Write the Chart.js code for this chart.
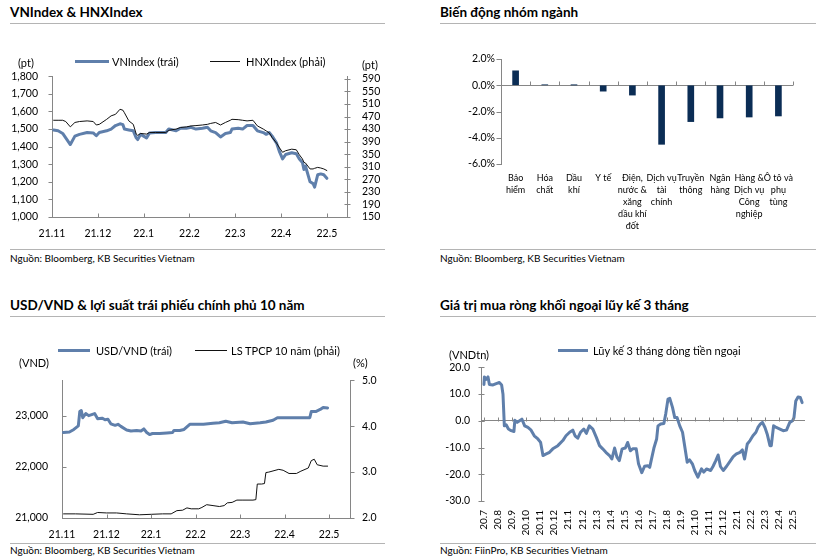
<!DOCTYPE html>
<html><head><meta charset="utf-8">
<script src="https://cdn.jsdelivr.net/npm/chart.js@4.4.1/dist/chart.umd.min.js"></script>
<style>
body{margin:0;background:#fff;width:818px;height:559px;position:relative;overflow:hidden;font-family:Lato,sans-serif;color:#000;}
.t{position:absolute;white-space:nowrap;}
.title{font-weight:bold;font-size:13.5px;line-height:16px;}
.rule{position:absolute;height:0;border-top:1px solid #b4b4b4;}
.src{font-size:10px;line-height:12px;}
.lg{font-size:11px;line-height:13px;}
.sw{position:absolute;height:0;}
canvas{position:absolute;}
</style></head><body>

<div class="t title" style="left:10px;top:4px">VNIndex &amp; HNXIndex</div>
<div class="rule" style="left:10px;top:23px;width:375px"></div>
<div class="t title" style="left:440px;top:4px">Biến động nhóm ngành</div>
<div class="rule" style="left:440px;top:23px;width:376px"></div>
<div class="t title" style="left:10px;top:297px">USD/VND &amp; lợi suất trái phiếu chính phủ 10 năm</div>
<div class="rule" style="left:10px;top:316px;width:375px"></div>
<div class="t title" style="left:440px;top:297px">Giá trị mua ròng khối ngoại lũy kế 3 tháng</div>
<div class="rule" style="left:440px;top:316px;width:376px"></div>

<canvas id="c1" width="410" height="192" style="left:0;top:55px"></canvas>
<canvas id="c2" width="378" height="194" style="left:440px;top:45px"></canvas>
<canvas id="c3" width="410" height="182" style="left:0;top:360px"></canvas>
<canvas id="c4" width="408" height="191" style="left:410px;top:350px"></canvas>

<div class="sw" style="left:75px;top:60px;width:34px;border-top:3px solid #5f7fab"></div>
<div class="t lg" style="left:112px;top:55px">VNIndex (trái)</div>
<div class="sw" style="left:210px;top:61px;width:30px;border-top:1px solid #111"></div>
<div class="t lg" style="left:246px;top:55px">HNXIndex (phải)</div>
<div class="t lg" style="left:18px;top:56px">(pt)</div>
<div class="t lg" style="left:362px;top:58px">(pt)</div>

<div class="sw" style="left:58px;top:349px;width:32px;border-top:3px solid #5f7fab"></div>
<div class="t lg" style="left:96px;top:344px">USD/VND (trái)</div>
<div class="sw" style="left:195px;top:350px;width:32px;border-top:1px solid #111"></div>
<div class="t lg" style="left:231px;top:344px">LS TPCP 10 năm (phải)</div>
<div class="t lg" style="left:19px;top:356px">(VND)</div>
<div class="t lg" style="left:353px;top:356px">(%)</div>

<div class="sw" style="left:558px;top:349px;width:30px;border-top:3px solid #5f7fab"></div>
<div class="t lg" style="left:593px;top:344px">Lũy kế 3 tháng dòng tiền ngoại</div>
<div class="t lg" style="left:449px;top:348px">(VNDtn)</div>

<div class="rule" style="left:10px;top:249px;width:375px"></div>
<div class="t src" style="left:10px;top:252px">Nguồn: Bloomberg, KB Securities Vietnam</div>
<div class="rule" style="left:440px;top:249px;width:376px"></div>
<div class="t src" style="left:440px;top:252px">Nguồn: Bloomberg, KB Securities Vietnam</div>
<div class="rule" style="left:10px;top:543px;width:375px"></div>
<div class="t src" style="left:10px;top:544px">Nguồn: Bloomberg, KB Securities Vietnam</div>
<div class="rule" style="left:440px;top:543px;width:376px"></div>
<div class="t src" style="left:440px;top:544px">Nguồn: FiinPro, KB Securities Vietnam</div>

<script>
// ---------- DATA ----------
const monthLabels = ['21.11','21.12','22.1','22.2','22.3','22.4','22.5'];

const vnDates = ['2021-11-02','2021-11-05','2021-11-08','2021-11-10','2021-11-13','2021-11-16','2021-11-19','2021-11-24','2021-11-28','2021-11-30',
 '2021-12-02','2021-12-07','2021-12-10','2021-12-13','2021-12-16','2021-12-18','2021-12-19','2021-12-22','2021-12-25','2021-12-27','2021-12-28','2021-12-30',
 '2022-01-03','2022-01-05','2022-01-09','2022-01-16','2022-01-18','2022-01-23','2022-01-26','2022-01-30',
 '2022-02-02','2022-02-05','2022-02-09','2022-02-12','2022-02-14','2022-02-17','2022-02-20','2022-02-23','2022-02-26','2022-02-27',
 '2022-03-03','2022-03-06','2022-03-09','2022-03-13','2022-03-16','2022-03-20','2022-03-22','2022-03-24','2022-03-26','2022-03-29','2022-03-31',
 '2022-04-02','2022-04-04','2022-04-08','2022-04-11','2022-04-13','2022-04-15','2022-04-16','2022-04-17','2022-04-20','2022-04-22','2022-04-23','2022-04-25','2022-04-27','2022-04-29','2022-05-01'];
const vnIndex = [1495,1490,1475,1450,1412,1460,1470,1480,1478,1462,
 1480,1490,1500,1520,1530,1525,1500,1495,1490,1450,1440,1470,
 1450,1478,1480,1480,1500,1490,1505,1505,
 1510,1500,1505,1510,1490,1480,1455,1475,1480,1500,
 1505,1500,1520,1520,1490,1480,1470,1480,1460,1420,1370,
 1330,1355,1365,1360,1330,1310,1270,1290,1200,1190,1170,1240,1245,1240,1220];
const hnxIndex = [458,458,458,454,437,451,454,456,454,443,
 445,461,472,477,493,490,482,456,445,414,410,416,
 414,419,419,419,426,430,435,437,
 440,441,443,445,448,451,443,451,458,461,
 460,458,456,458,440,430,424,418,403,385,370,
 356,361,366,364,348,335,324,322,303,303,305,308,306,303,298];
const vnTicks = [1000,1100,1200,1300,1400,1500,1600,1700,1800];
const hnxTicks = [150,190,230,270,310,350,390,430,470,510,550,590];

const sectorLabels = [['Bảo','hiểm'],['Hóa','chất'],['Dầu','khí'],['Y tế'],['Điện,','nước &','xăng','dầu khí','đốt'],
 ['Dịch vụ','tài','chính'],['Truyền','thông'],['Ngân','hàng'],['Hàng &','Dịch vụ','Công','nghiệp'],['Ô tô và','phụ','tùng']];
const sectorChange = [1.1,0.03,0.02,-0.45,-0.75,-4.5,-2.77,-2.49,-2.42,-2.34];
const sectorTicks = [-6,-4,-2,0,2];

const usdDates = ['2021-11-02','2021-11-06','2021-11-09','2021-11-12','2021-11-13','2021-11-14','2021-11-15','2021-11-17','2021-11-19','2021-11-21','2021-11-23','2021-11-25','2021-11-28','2021-11-30',
 '2021-12-02','2021-12-04','2021-12-07','2021-12-09','2021-12-11','2021-12-15','2021-12-18','2021-12-22','2021-12-25','2021-12-27','2021-12-29','2021-12-31',
 '2022-01-02','2022-01-07','2022-01-12','2022-01-16','2022-01-17','2022-01-21','2022-01-24','2022-01-28',
 '2022-02-02','2022-02-06','2022-02-12','2022-02-16','2022-02-20','2022-02-24',
 '2022-03-03','2022-03-08','2022-03-15','2022-03-19','2022-03-24','2022-03-27',
 '2022-04-02','2022-04-07','2022-04-11','2022-04-18','2022-04-19','2022-04-22','2022-04-25','2022-04-27','2022-04-30'];
const usdVnd = [22670,22680,22730,22800,23080,23100,22960,23040,23000,23020,23040,22940,22950,22920,
 22930,22840,22810,22830,22790,22720,22700,22710,22700,22740,22670,22630,
 22650,22650,22660,22670,22710,22710,22730,22830,
 22830,22830,22850,22860,22890,22860,
 22875,22840,22860,22875,22910,22960,
 22960,22960,22960,22960,23080,23080,23120,23160,23150];
const usdTicks = [21000,22000,23000];

const bondDates = ['2021-11-02','2021-11-10','2021-11-22','2021-11-25','2021-12-01','2021-12-08','2021-12-15','2021-12-24',
 '2022-01-01','2022-01-09','2022-01-15','2022-01-19','2022-01-23','2022-01-26','2022-01-29',
 '2022-02-03','2022-02-05','2022-02-08','2022-02-12','2022-02-16','2022-02-19','2022-02-21','2022-02-24','2022-02-27',
 '2022-03-03','2022-03-10','2022-03-12','2022-03-13','2022-03-16','2022-03-18','2022-03-19','2022-03-21','2022-03-28','2022-03-31',
 '2022-04-04','2022-04-09','2022-04-12','2022-04-17','2022-04-19','2022-04-21','2022-04-23','2022-04-27','2022-04-30'];
const bondYield = [2.09,2.09,2.08,2.12,2.11,2.11,2.09,2.07,
 2.08,2.09,2.09,2.16,2.17,2.22,2.20,
 2.20,2.23,2.29,2.27,2.25,2.27,2.33,2.34,2.39,
 2.39,2.39,2.40,2.74,2.74,2.75,2.99,3.00,3.06,3.04,
 2.97,2.97,3.02,3.09,3.25,3.28,3.16,3.13,3.13];
const bondTicks = [2,3,4,5];

const flowLabels = ['20.7','20.8','20.9','20.10','20.11','20.12','21.1','21.2','21.3','21.4','21.5','21.6','21.7','21.8','21.9','21.10','21.11','21.12','22.1','22.2','22.3','22.4','22.5'];
const flowDates = ['2020-07-01','2020-07-02','2020-07-06','2020-07-10','2020-07-13','2020-07-21','2020-07-28','2020-08-04','2020-08-09','2020-08-12','2020-08-15','2020-08-19','2020-08-24','2020-08-30',
 '2020-09-05','2020-09-07','2020-09-12','2020-09-17','2020-09-22','2020-09-28','2020-10-05','2020-10-12','2020-10-19','2020-10-27',
 '2020-11-02','2020-11-07','2020-11-14','2020-11-21','2020-11-28','2020-12-09','2020-12-20','2020-12-27',
 '2021-01-04','2021-01-11','2021-01-16','2021-01-22','2021-01-28','2021-02-04','2021-02-09','2021-02-15','2021-02-22',
 '2021-03-01','2021-03-08','2021-03-15','2021-03-22','2021-03-30','2021-04-04','2021-04-10','2021-04-15','2021-04-20','2021-04-26',
 '2021-05-03','2021-05-08','2021-05-14','2021-05-19','2021-05-27','2021-06-01','2021-06-08','2021-06-14','2021-06-21','2021-06-25','2021-06-28',
 '2021-07-04','2021-07-10','2021-07-13','2021-07-19','2021-07-26','2021-07-30','2021-08-04','2021-08-08','2021-08-14','2021-08-19','2021-08-24','2021-08-30',
 '2021-09-05','2021-09-10','2021-09-15','2021-09-20','2021-09-26','2021-10-01','2021-10-08','2021-10-16','2021-10-21','2021-10-27',
 '2021-11-05','2021-11-10','2021-11-16','2021-11-21','2021-11-26','2021-12-02','2021-12-09','2021-12-18','2021-12-24','2021-12-31',
 '2022-01-08','2022-01-13','2022-01-18','2022-01-24','2022-01-30','2022-02-05','2022-02-11','2022-02-15','2022-02-20','2022-02-24',
 '2022-03-01','2022-03-06','2022-03-12','2022-03-15','2022-03-20','2022-03-26','2022-04-03','2022-04-10','2022-04-17','2022-04-24','2022-04-30',
 '2022-05-03','2022-05-07','2022-05-12','2022-05-17','2022-05-21'];
const foreignFlow = [13.6,16.4,15.5,16.4,13.6,13.4,13.9,14.3,13.4,9.9,-1.9,-1.5,-3.1,-3.7,
 -4.0,0.2,-0.6,0.0,0.6,-1.9,-2.5,-3.5,-5.6,-6.8,
 -8.1,-13.0,-12.4,-11.8,-10.5,-9.3,-7.4,-5.6,
 -4.3,-3.5,-5.6,-6.5,-4.3,-3.1,-4.7,-1.9,-3.1,
 -6.2,-9.3,-10.5,-11.8,-13.0,-14.3,-10.2,-13.6,-14.9,-10.5,
 -10.2,-8.1,-11.2,-10.5,-10.5,-16.1,-19.4,-17.0,-16.8,-17.4,-14.9,
 -10.2,-6.8,-1.9,-1.2,-1.0,2.5,8.1,8.4,5.0,1.2,1.2,-1.9,
 -4.3,-9.9,-15.5,-14.6,-16.1,-18.6,-21.1,-18.0,-19.2,-18.0,
 -18.6,-17.1,-14.9,-12.8,-17.1,-18.6,-17.1,-14.9,-13.4,-12.4,
 -11.8,-10.9,-14.3,-8.7,-7.4,-5.6,-4.3,-2.5,-1.2,-0.6,
 -2.5,-5.0,-9.3,-9.3,-1.9,-2.5,-3.1,-3.7,-3.5,-0.6,0.0,
 1.2,7.4,8.9,8.7,6.8];
const flowTicks = [-30,-20,-10,0,10,20];

// ---------- HELPERS ----------
const AXIS = '#868686', BLUE = '#5f7fab', NAVY = '#0b2d55';
function monthPos(d, y0, m0){
  const p = d.split('-').map(Number);
  const dim = new Date(p[0], p[1], 0).getDate();
  return (p[0]-y0)*12 + (p[1]-m0) + (p[2]-1)/dim;
}
function series(dates, vals, y0, m0){ return dates.map((d,i)=>({x:monthPos(d,y0,m0), y:vals[i]})); }
const noGrid = {display:false, drawTicks:false, tickLength:0};
const zeroGrid = {drawTicks:false, tickLength:0, color:c => (c.tick && c.tick.value===0) ? AXIS : 'rgba(0,0,0,0)'};
const setTicks = arr => s => { s.ticks = arr.map(v=>({value:v})); };

const tickMarks = {
  id:'tickMarks',
  afterDraw(chart, args, opts){
    const ctx = chart.ctx, area = chart.chartArea;
    ctx.save(); ctx.strokeStyle = AXIS; ctx.lineWidth = 1;
    (opts.marks||[]).forEach(m=>{
      const s = chart.scales[m.scale];
      let pos = s.ticks.map((t,i)=>s.getPixelForTick(i));
      if (m.between && pos.length>1){ const h=(pos[1]-pos[0])/2; pos = pos.map(p=>p+h); }
      ctx.beginPath();
      if (s.isHorizontal()){
        const base = m.crossScale ? chart.scales[m.crossScale].getPixelForValue(m.crossAt) : area.bottom;
        const b = Math.round(base)+0.5;
        pos.forEach(p=>{ const x=Math.round(p)+0.5; ctx.moveTo(x,b-(m.up||0)); ctx.lineTo(x,b+(m.down||0)); });
      } else {
        const base = Math.round(s.position==='left'?area.left:area.right)+0.5;
        pos.forEach(p=>{ const y=Math.round(p)+0.5; ctx.moveTo(base-(m.left||0),y); ctx.lineTo(base+(m.right||0),y); });
      }
      ctx.stroke();
    });
    ctx.restore();
  }
};
Chart.register(tickMarks);
Chart.defaults.font.family = 'Lato';
Chart.defaults.font.size = 10.5;
Chart.defaults.color = '#000';
Chart.defaults.animation = false;
Chart.defaults.plugins.legend.display = false;
Chart.defaults.plugins.tooltip.enabled = false;
const base = {responsive:false, maintainAspectRatio:false};
const lineEl = {point:{radius:0}, line:{tension:0, borderJoinStyle:'round', borderCapStyle:'round'}};

// ---------- CHART 1 ----------
new Chart(document.getElementById('c1'), {
  type:'line',
  data:{datasets:[
    {data:series(vnDates,vnIndex,2021,11), yAxisID:'y', borderColor:BLUE, borderWidth:3, order:2},
    {data:series(vnDates,hnxIndex,2021,11), yAxisID:'y2', borderColor:'#111', borderWidth:1, order:1}
  ]},
  options:{...base, elements:lineEl, layout:{padding:{top:20,left:0,right:0,bottom:0}},
    scales:{
      x:{type:'linear', min:0, max:6.44, afterBuildTicks:setTicks(monthLabels.map((_,i)=>i)),
         ticks:{callback:v=>monthLabels[v], autoSkip:false, maxRotation:0, minRotation:0, padding:10},
         grid:noGrid, border:{color:AXIS}, afterFit:s=>{s.height=30;}},
      y:{position:'left', min:1000, max:1800, afterBuildTicks:setTicks(vnTicks),
         ticks:{callback:v=>v.toLocaleString('en-US'), padding:14, autoSkip:false}, grid:noGrid, border:{color:AXIS}, afterFit:s=>{s.width=52;}},
      y2:{position:'right', min:150, max:598, afterBuildTicks:setTicks(hnxTicks),
         ticks:{callback:v=>String(v), padding:15, autoSkip:false}, grid:noGrid, border:{color:AXIS}, afterFit:s=>{s.width=63;}}
    },
    plugins:{tickMarks:{marks:[{scale:'x',up:4},{scale:'y',left:4},{scale:'y2',left:3,right:3}]}}
  }
});

// ---------- CHART 2 ----------
new Chart(document.getElementById('c2'), {
  type:'bar',
  data:{labels:sectorLabels, datasets:[{data:sectorChange, backgroundColor:NAVY, barThickness:6}]},
  options:{...base, layout:{padding:{top:14,right:25,left:0,bottom:0}},
    scales:{
      x:{ticks:{autoSkip:false, maxRotation:0, minRotation:0, padding:8, font:{size:9, lineHeight:1.333}},
         grid:noGrid, border:{display:false}, afterFit:s=>{s.height=75;}},
      y:{min:-6, max:2, afterBuildTicks:setTicks(sectorTicks),
         ticks:{callback:v=>v.toFixed(1)+'%', padding:6, autoSkip:false}, grid:zeroGrid, border:{color:AXIS}, afterFit:s=>{s.width=61;}}
    },
    plugins:{tickMarks:{marks:[{scale:'x',between:true,crossScale:'y',crossAt:0,up:4},{scale:'y',left:5}]}}
  }
});

// ---------- CHART 3 ----------
new Chart(document.getElementById('c3'), {
  type:'line',
  data:{datasets:[
    {data:series(usdDates,usdVnd,2021,11), yAxisID:'y', borderColor:BLUE, borderWidth:3, order:2},
    {data:series(bondDates,bondYield,2021,11), yAxisID:'y2', borderColor:'#111', borderWidth:1, order:1}
  ]},
  options:{...base, elements:lineEl, layout:{padding:{top:17,left:0,right:0,bottom:0}},
    scales:{
      x:{type:'linear', min:0, max:6.47, afterBuildTicks:setTicks(monthLabels.map((_,i)=>i)),
         ticks:{callback:v=>monthLabels[v], autoSkip:false, maxRotation:0, minRotation:0, padding:10},
         grid:noGrid, border:{color:AXIS}, afterFit:s=>{s.height=24;}},
      y:{position:'left', min:21000, max:23690, afterBuildTicks:setTicks(usdTicks),
         ticks:{callback:v=>v.toLocaleString('en-US'), padding:14, autoSkip:false}, grid:noGrid, border:{color:AXIS}, afterFit:s=>{s.width=62;}},
      y2:{position:'right', min:2, max:5, afterBuildTicks:setTicks(bondTicks),
         ticks:{callback:v=>v.toFixed(1), padding:12, autoSkip:false}, grid:noGrid, border:{color:AXIS}, afterFit:s=>{s.width=60;}}
    },
    plugins:{tickMarks:{marks:[{scale:'x',up:4},{scale:'y',right:4},{scale:'y2',right:4}]}}
  }
});

// ---------- CHART 4 ----------
new Chart(document.getElementById('c4'), {
  type:'line',
  data:{datasets:[{data:series(flowDates,foreignFlow,2020,7), borderColor:BLUE, borderWidth:3}]},
  options:{...base, elements:lineEl, layout:{padding:{top:16,left:0,right:13,bottom:0}},
    scales:{
      x:{type:'linear', min:-0.21, max:22.85, afterBuildTicks:setTicks(flowLabels.map((_,i)=>i)),
         ticks:{callback:v=>flowLabels[v], autoSkip:false, maxRotation:90, minRotation:90, padding:9, font:{size:10}},
         grid:noGrid, border:{display:false}, afterFit:s=>{s.height=40;}},
      y:{min:-30, max:20, afterBuildTicks:setTicks(flowTicks),
         ticks:{callback:v=>v.toFixed(1), padding:11, autoSkip:false}, grid:zeroGrid, border:{color:AXIS}, afterFit:s=>{s.width=71;}}
    },
    plugins:{tickMarks:{marks:[{scale:'x',crossScale:'y',crossAt:0,up:4},{scale:'y',left:3,right:3}]}}
  }
});
</script>
</body></html>
